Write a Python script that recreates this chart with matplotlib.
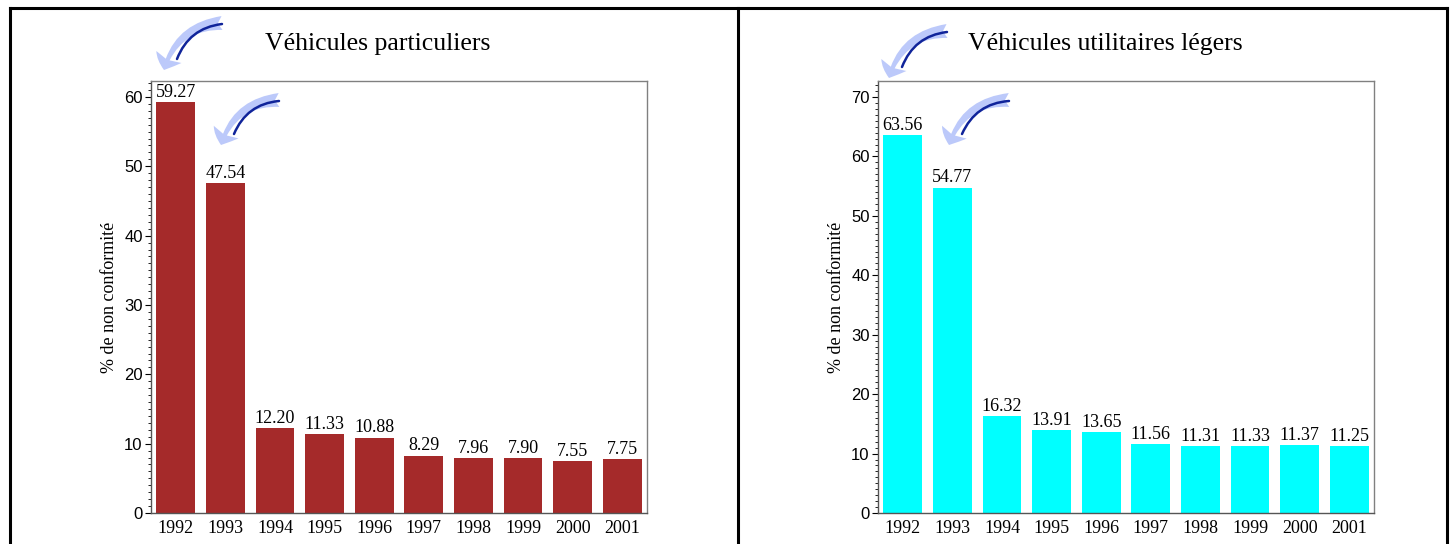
import numpy as np
import matplotlib.pyplot as plt
from matplotlib.patches import FancyArrowPatch
from matplotlib.lines import Line2D
from matplotlib.ticker import MultipleLocator

years = ['1992', '1993', '1994', '1995', '1996', '1997', '1998', '1999', '2000', '2001']
vp = [59.27, 47.54, 12.20, 11.33, 10.88, 8.29, 7.96, 7.90, 7.55, 7.75]
vul = [63.56, 54.77, 16.32, 13.91, 13.65, 11.56, 11.31, 11.33, 11.37, 11.25]

W, H = 1456, 544
fig = plt.figure(figsize=(W / 100, H / 100), dpi=100)


def fp(x, y):
    # image pixel -> figure fraction
    return (x / W, 1 - y / H)


serif = ['Liberation Serif', 'DejaVu Serif']
sans = ['Liberation Sans', 'DejaVu Sans']

panels = [
    (151, vp, '#A52A2A', 62.3, 'Véhicules particuliers', 378),
    (878, vul, '#00FFFF', 72.7, 'Véhicules utilitaires légers', 1105),
]

for x0, vals, color, top, title, tx in panels:
    ax = fig.add_axes([x0 / W, 31 / H, 496 / W, 432 / H])
    x = np.arange(len(years))
    ax.bar(x, vals, width=0.78, color=color)
    for xi, v in zip(x, vals):
        ax.annotate(f'{v:.2f}', (xi, v), xytext=(0, 0.8), textcoords='offset points',
                    ha='center', va='bottom', fontsize=13, family=serif)
    ax.set_xlim(-0.5, len(years) - 0.5)
    ax.set_ylim(0, top)
    ax.set_xticks(x, years)
    ax.yaxis.set_major_locator(MultipleLocator(10))
    ax.yaxis.set_minor_locator(MultipleLocator(1))
    ax.tick_params(axis='x', length=0, pad=5, labelsize=13)
    for lab in ax.get_xticklabels():
        lab.set_family(serif)
    ax.tick_params(axis='y', which='major', length=4, width=0.8, labelsize=12, pad=2)
    ax.tick_params(axis='y', which='minor', length=2.2, width=0.6)
    for lab in ax.get_yticklabels():
        lab.set_family(sans)
    ax.set_ylabel('% de non conformité', family=serif, fontsize=13, labelpad=4)
    for s in ax.spines.values():
        s.set_linewidth(1)
        s.set_color('#555555')
    ax.spines['top'].set_color('#808080')
    ax.spines['right'].set_color('#808080')
    fig.text(*fp(tx, 44), title, ha='center', va='center', fontsize=18.5, family=serif)

# curved blue pointers
arrows = [((222, 23), (164, 70)), ((279, 100), (221, 145)),
          ((947, 31), (889, 78)), ((1009, 100), (949, 145))]
for (ax_, ay_), (bx, by) in arrows:
    a = FancyArrowPatch(fp(ax_, ay_), fp(bx, by), transform=fig.transFigure,
                        connectionstyle='arc3,rad=0.35',
                        arrowstyle='fancy,head_length=10,head_width=20,tail_width=10',
                        shrinkA=0, shrinkB=0, fc='#bcc9fa', ec='none', zorder=5)
    fig.add_artist(a)
    ln = FancyArrowPatch(fp(ax_, ay_ + 1), fp(bx + 13, by - 11), transform=fig.transFigure,
                         connectionstyle='arc3,rad=0.3', arrowstyle='-',
                         shrinkA=0, shrinkB=0, color='#10249a', lw=1.8, zorder=6)
    fig.add_artist(ln)

# outer frame
for xs, ys in [((10, 10), (8, 544)), ((738, 738), (8, 544)),
               ((1447, 1447), (8, 544)), ((10, 1447), (8, 8))]:
    fig.add_artist(Line2D([xs[0] / W, xs[1] / W], [1 - ys[0] / H, 1 - ys[1] / H],
                          transform=fig.transFigure, color='black', lw=2.2))

fig.savefig('out.png', dpi=100)
